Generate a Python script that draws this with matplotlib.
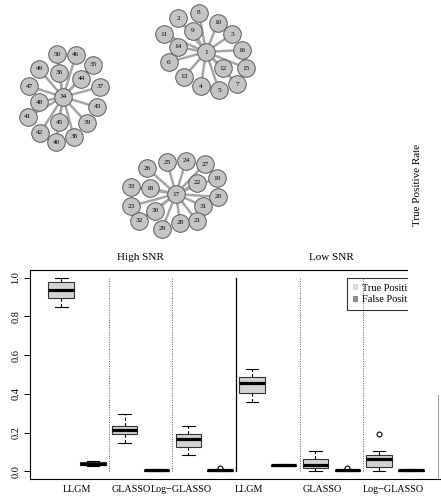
import matplotlib
matplotlib.use("Agg")
import matplotlib.pyplot as plt
from matplotlib.patches import Patch, Rectangle
from matplotlib.lines import Line2D

plt.rcParams['font.family'] = ['Liberation Serif', 'DejaVu Serif']

# ---- network layout (three star graphs), pixel-like layout units ----
hubs = [1, 34, 17]
star_nodes = {
    1: [2, 11, 14, 6, 13, 9, 8, 10, 3, 16, 12, 15, 7, 5, 4],
    34: [50, 46, 35, 36, 44, 49, 37, 47, 48, 43, 41, 45, 39, 42, 38, 40],
    17: [25, 24, 27, 26, 19, 22, 33, 18, 20, 31, 23, 30, 21, 28, 32, 29],
}
node_ids = [1, 2, 11, 14, 6, 13, 9, 8, 10, 3, 16, 12, 15, 7, 5, 4,
            34, 50, 46, 35, 36, 44, 49, 37, 47, 48, 43, 41, 45, 39, 42, 38, 40,
            17, 25, 24, 27, 26, 19, 22, 33, 18, 20, 31, 23, 30, 21, 28, 32, 29]
node_x = [206, 178, 164, 178, 169, 184, 193, 199, 218, 232, 242, 223, 246, 237, 219, 201,
          63, 57, 76, 93, 59, 81, 39, 100, 29, 39, 97, 28, 59, 87, 40, 74, 56,
          176, 167, 186, 205, 147, 217, 197, 131, 150, 218, 203, 131, 155, 197, 180, 139, 162]
node_y = [52, 18, 34, 47, 62, 77, 31, 13, 23, 34, 50, 68, 68, 84, 90, 86,
          97, 54, 55, 65, 73, 79, 69, 87, 86, 102, 107, 117, 122, 123, 133, 137, 142,
          194, 162, 161, 164, 168, 178, 183, 187, 188, 197, 206, 206, 211, 221, 223, 221, 229]

# ---- boxplot summary statistics ----
methods = ["LLGM", "GLASSO", "Log\u2212GLASSO"]
groups = ["High SNR", "Low SNR"]
label_pos = [1.5, 3.2, 4.78, 6.9, 9.2, 11.45]
# order: (High) LLGM TP, LLGM FP, GLASSO TP, GLASSO FP, LogG TP, LogG FP, then Low
whislo = [0.850, 0.028, 0.148, 0.000, 0.084, 0.000, 0.360, 0.027, 0.000, 0.000, 0.000, 0.000]
q1     = [0.893, 0.034, 0.191, 0.002, 0.127, 0.002, 0.403, 0.029, 0.019, 0.002, 0.022, 0.002]
med    = [0.935, 0.040, 0.213, 0.005, 0.168, 0.005, 0.457, 0.032, 0.030, 0.005, 0.062, 0.005]
q3     = [0.978, 0.046, 0.234, 0.008, 0.191, 0.008, 0.488, 0.034, 0.065, 0.008, 0.084, 0.008]
whishi = [1.000, 0.054, 0.297, 0.011, 0.234, 0.011, 0.531, 0.037, 0.107, 0.011, 0.105, 0.011]
fliers = [[], [], [], [], [], [0.015], [], [], [], [0.015], [0.19], []]
is_tp = [True, False] * 6

W, H = 441, 497
fig = plt.figure(figsize=(W / 100, H / 100), dpi=100)

# boxplot axes (extends slightly past the right edge, as in the source)
ax = fig.add_axes([30 / W, 1 - 479 / H, (442 - 30) / W, (479 - 270) / H])
stats = []
for i in range(12):
    stats.append(dict(whislo=whislo[i], q1=q1[i], med=med[i], q3=q3[i],
                      whishi=whishi[i], fliers=fliers[i]))
bp = ax.bxp(stats, positions=range(1, 13), widths=0.8, patch_artist=True,
            capwidths=0.4,
            boxprops=dict(edgecolor="#333333", linewidth=0.8),
            medianprops=dict(color="black", linewidth=2.3, solid_capstyle="butt"),
            whiskerprops=dict(color="black", linewidth=0.8, linestyle=(0, (3, 2))),
            capprops=dict(color="black", linewidth=0.8),
            flierprops=dict(marker="o", markersize=3.5, markerfacecolor="none",
                            markeredgecolor="black", markeredgewidth=0.8))
for patch, tp in zip(bp["boxes"], is_tp):
    patch.set_facecolor("#d3d3d3" if tp else "#8c8c8c")

for xv in [2.5, 4.5, 8.5, 10.5]:
    ax.plot([xv, xv], [0, 1], color="#555555", linestyle=(0, (1, 1.5)), linewidth=0.7)
ax.plot([6.5, 6.5], [0, 1], color="black", linewidth=0.9)

ax.set_xlim(0.02, 12.98)
ax.set_ylim(-0.04, 1.04)
ax.set_yticks([0.0, 0.2, 0.4, 0.6, 0.8, 1.0])
ax.set_yticklabels(["0.0", "0.2", "0.4", "0.6", "0.8", "1.0"], rotation=90,
                   va="center", fontsize=7.5)
ax.tick_params(axis="y", length=4, width=0.7, pad=3)
ax.set_xticks(label_pos)
ax.set_xticklabels(methods * 2, fontsize=7.3)
ax.tick_params(axis="x", length=0, pad=4)
ax.spines["right"].set_visible(False)
for s in ["top", "left", "bottom"]:
    ax.spines[s].set_linewidth(0.8)

ax.text(3.5, 1.062, groups[0], ha="center", va="center", fontsize=8,
        transform=ax.get_xaxis_transform())
ax.text(9.5, 1.062, groups[1], ha="center", va="center", fontsize=8,
        transform=ax.get_xaxis_transform())

handles = [Patch(facecolor="#d9d9d9", edgecolor="none"),
           Patch(facecolor="#8c8c8c", edgecolor="none")]
leg = ax.legend(handles, ["True Positive", "False Positive"], loc="upper left",
                bbox_to_anchor=(347 / W, 1 - 278 / H), bbox_transform=fig.transFigure,
                fontsize=7.5, frameon=True, fancybox=False, handlelength=0.5,
                handleheight=0.5, handletextpad=0.4, borderpad=0.55, borderaxespad=0,
                labelspacing=0.25)
leg.get_frame().set_facecolor("none")
leg.get_frame().set_edgecolor("black")
leg.get_frame().set_linewidth(0.8)

# overlay for the network drawings and the clipped right strip
ov = fig.add_axes([0, 0, 1, 1])
ov.set_xlim(0, W)
ov.set_ylim(H, 0)
ov.axis("off")
ov.patch.set_alpha(0)

pos = {n: (x, y) for n, x, y in zip(node_ids, node_x, node_y)}
for h in hubs:
    for n in star_nodes[h]:
        ov.plot([pos[h][0], pos[n][0]], [pos[h][1], pos[n][1]], color="#a6a6a6",
                linewidth=1.8, zorder=1, solid_capstyle="butt")
ov.scatter(node_x, node_y, s=160, facecolor="#c4c4c4", edgecolor="#5a5a5a",
           linewidth=0.7, zorder=2)
for n, x, y in zip(node_ids, node_x, node_y):
    ov.text(x, y, str(n), ha="center", va="center", fontsize=5.2, zorder=3)

ov.add_patch(Rectangle((408, 0), W - 408, 395, facecolor="white", edgecolor="none", zorder=4))
ov.add_line(Line2D([438, 438], [395, 478], color="#9a9a9a", linewidth=0.7, zorder=5))
ov.text(417, 185, "True Positive Rate", rotation=90, ha="center", va="center",
        fontsize=8, zorder=6)

fig.savefig("out.png", dpi=100)
